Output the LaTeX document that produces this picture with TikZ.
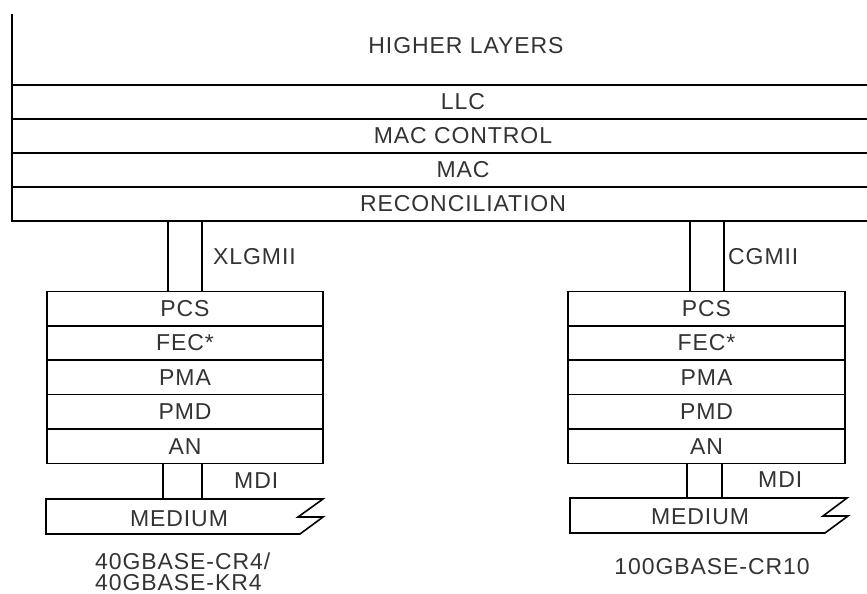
\documentclass[tikz,border=0pt]{standalone}
\usepackage{fontspec}
\setmainfont{Liberation Sans}[LetterSpace=4]
\begin{document}
\begin{tikzpicture}[x=1pt,y=-1pt,
  ln/.style={line width=1.6pt, black},
  lbl/.style={inner sep=0pt, text=black!80, font=\fontsize{23}{26}\selectfont},
  layer/.style={draw=black, line width=1.6pt, inner sep=0pt, text=black!80,
     font=\fontsize{23}{26}\selectfont, minimum height=34.4pt},
  lstack/.style={layer, minimum width=276pt},
  rstack/.style={layer, minimum width=277pt}]
\useasboundingbox (0,0) rectangle (867,594);
% upper stack
\coordinate (tl) at (12,14);
\draw[ln] (tl) -- (12,221) -- (867,221);
\foreach \yy in {85,119,153,187} \draw[ln] (12,\yy) -- (867,\yy);
\node[lbl] (hl) at (466,46) {HIGHER LAYERS};
\node[lbl] (llc) at (463,102) {LLC};
\node[lbl] (macc) at (463,136) {MAC CONTROL};
\node[lbl] (mac) at (463,170) {MAC};
\node[lbl] (rec) at (463,204) {RECONCILIATION};
% left PHY stack
\node[lstack] (lpcs) at (185,308.6) {PCS};
\node[lstack] (lfec) at (185,343) {FEC*};
\node[lstack] (lpma) at (185,377.4) {PMA};
\node[lstack] (lpmd) at (185,411.8) {PMD};
\node[lstack] (lan)  at (185,446.2) {AN};
% right PHY stack
\node[rstack] (rpcs) at (706.5,308.6) {PCS};
\node[rstack] (rfec) at (706.5,343) {FEC*};
\node[rstack] (rpma) at (706.5,377.4) {PMA};
\node[rstack] (rpmd) at (706.5,411.8) {PMD};
\node[rstack] (ran)  at (706.5,446.2) {AN};
% xlgmii / cgmii connectors
\draw[ln] (168,221) -- (168,291.4) (202,221) -- (202,291.4);
\draw[ln] (690,221) -- (690,291.4) (724,221) -- (724,291.4);
\node[lbl, anchor=west] (xlg) at (213,257) {XLGMII};
\node[lbl, anchor=west] (cg) at (728,257) {CGMII};
% MDI connectors
\draw[ln] (163,463.4) -- (163,499) (202,463.4) -- (202,499);
\draw[ln] (687,463.4) -- (687,498) (722,463.4) -- (722,498);
\node[lbl, anchor=west] (lmdi) at (234,481) {MDI};
\node[lbl, anchor=west] (rmdi) at (758,480) {MDI};
% media
\draw[ln, line join=miter] (46,499) -- (323,499) -- (298,517) -- (323,517) -- (300,534) -- (46,534) -- cycle;
\draw[ln, line join=miter] (570,498) -- (847,498) -- (823,516) -- (848,516) -- (825,533) -- (570,533) -- cycle;
\node[lbl] (lmed) at (179,519) {MEDIUM};
\node[lbl] (rmed) at (700,517) {MEDIUM};
% captions
\node[lbl, anchor=west] (lcap1) at (95,561) {40GBASE-CR4/};
\node[lbl, anchor=west] (lcap2) at (95,582.5) {40GBASE-KR4};
\node[lbl] (rcap) at (712,567) {100GBASE-CR10};
\end{tikzpicture}
\end{document}
